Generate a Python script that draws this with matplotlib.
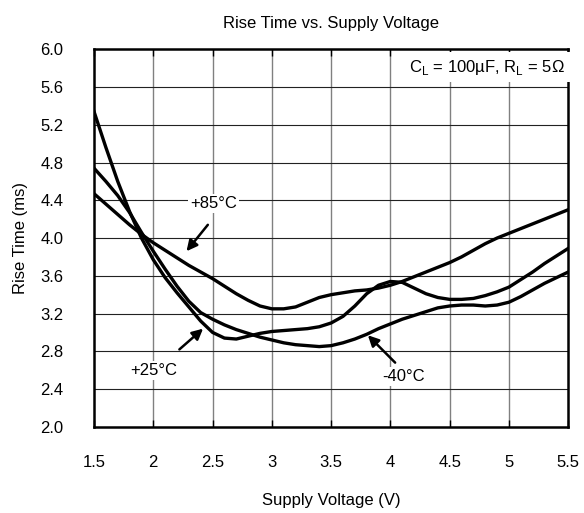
import matplotlib
matplotlib.use('Agg')
import matplotlib.pyplot as plt
import numpy as np

plt.rcParams['font.family'] = ['Liberation Sans', 'DejaVu Sans']

voltage = [1.5, 1.6, 1.7, 1.8, 1.9, 2.0, 2.1, 2.2, 2.3, 2.4, 2.5, 2.6, 2.7, 2.8, 2.9,
           3.0, 3.1, 3.2, 3.3, 3.4, 3.5, 3.6, 3.7, 3.8, 3.9, 4.0, 4.1, 4.2, 4.3, 4.4,
           4.5, 4.6, 4.7, 4.8, 4.9, 5.0, 5.1, 5.2, 5.3, 5.4, 5.5]

rise_25 = [5.34, 4.96, 4.60, 4.28, 4.00, 3.77, 3.58, 3.42, 3.27, 3.12, 3.00, 2.94, 2.93, 2.96, 2.99,
           3.01, 3.02, 3.03, 3.04, 3.06, 3.10, 3.17, 3.28, 3.41, 3.50, 3.54, 3.53, 3.47, 3.41, 3.37,
           3.35, 3.35, 3.36, 3.39, 3.43, 3.48, 3.56, 3.64, 3.73, 3.81, 3.89]

rise_m40 = [4.74, 4.60, 4.45, 4.27, 4.06, 3.86, 3.67, 3.49, 3.33, 3.21, 3.14, 3.08, 3.03, 2.99, 2.95,
            2.92, 2.89, 2.87, 2.86, 2.85, 2.86, 2.89, 2.93, 2.98, 3.04, 3.09, 3.14, 3.18, 3.22, 3.26,
            3.28, 3.29, 3.29, 3.28, 3.29, 3.32, 3.38, 3.45, 3.52, 3.58, 3.64]

rise_85 = [4.47, 4.36, 4.25, 4.14, 4.04, 3.95, 3.87, 3.79, 3.71, 3.64, 3.57, 3.49, 3.41, 3.34, 3.28,
           3.25, 3.25, 3.27, 3.32, 3.37, 3.40, 3.42, 3.44, 3.45, 3.47, 3.50, 3.54, 3.59, 3.64, 3.69,
           3.74, 3.80, 3.87, 3.94, 4.00, 4.05, 4.10, 4.15, 4.20, 4.25, 4.30]

xticks = [1.5, 2, 2.5, 3, 3.5, 4, 4.5, 5, 5.5]
xtick_labels = ['1.5', '2', '2.5', '3', '3.5', '4', '4.5', '5', '5.5']
yticks = [2.0, 2.4, 2.8, 3.2, 3.6, 4.0, 4.4, 4.8, 5.2, 5.6, 6.0]

fig = plt.figure(figsize=(5.84, 5.13), dpi=100)
ax = fig.add_axes([0.161, 0.168, 0.812, 0.736])

for x in xticks[1:-1]:
    ax.axvline(x, color='#808080', lw=1.0, zorder=1)
for y in yticks[1:-1]:
    ax.axhline(y, color='#222222', lw=0.8, zorder=1)

ax.plot(voltage, rise_25, color='black', lw=2.4, zorder=3)
ax.plot(voltage, rise_m40, color='black', lw=2.4, zorder=3)
ax.plot(voltage, rise_85, color='black', lw=2.4, zorder=3)

ax.set_xlim(1.5, 5.5)
ax.set_ylim(2.0, 6.0)
ax.set_xticks(xticks)
ax.set_xticklabels(xtick_labels)
ax.set_yticks(yticks)
ax.set_yticklabels([f'{v:.1f}' for v in yticks])
ax.tick_params(axis='x', direction='in', length=5, width=1, top=True, pad=20, labelsize=12)
ax.tick_params(axis='y', length=0, pad=22, labelsize=12)
for s in ax.spines.values():
    s.set_linewidth(1.8)
    s.set_zorder(4)

ax.set_xlabel('Supply Voltage (V)', fontsize=12, labelpad=17)
ax.set_ylabel('Rise Time (ms)', fontsize=12, labelpad=9)
ax.set_title('Rise Time vs. Supply Voltage', fontsize=12, pad=15)

box = dict(facecolor='white', edgecolor='none', pad=1.5)
arrow = dict(arrowstyle='-|>', color='black', lw=1.8, mutation_scale=16, shrinkA=0, shrinkB=0)

ax.text(2.51, 4.37, '+85°C', fontsize=12, ha='center', va='center', bbox=box, zorder=5)
ax.annotate('', xy=(2.28, 3.86), xytext=(2.46, 4.14), arrowprops=arrow, zorder=5)

ax.text(2.0, 2.60, '+25°C', fontsize=12, ha='center', va='center', bbox=box, zorder=5)
ax.annotate('', xy=(2.42, 3.04), xytext=(2.22, 2.82), arrowprops=arrow, zorder=5)

ax.text(4.11, 2.53, '-40°C', fontsize=12, ha='center', va='center', bbox=box, zorder=5)
ax.annotate('', xy=(3.81, 2.97), xytext=(4.04, 2.68), arrowprops=arrow, zorder=5)

ax.text(5.47, 5.81, r'C$_\mathregular{L}$ = 100µF, R$_\mathregular{L}$ = 5Ω', fontsize=12,
        ha='right', va='center', bbox=dict(facecolor='white', edgecolor='none', pad=4), zorder=5)

fig.savefig('out.png', dpi=100)
